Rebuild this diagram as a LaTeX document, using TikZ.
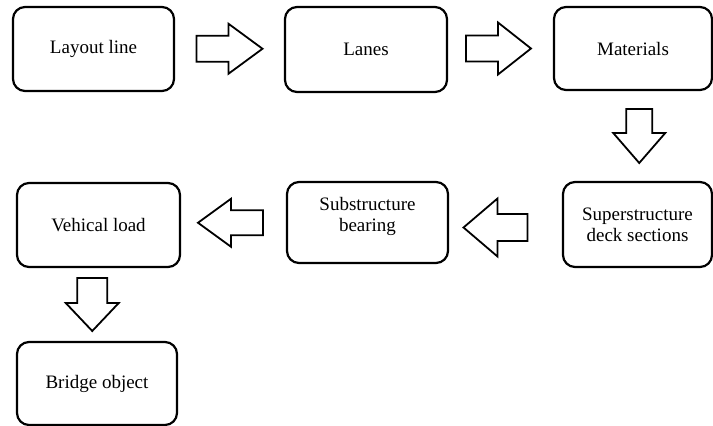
\documentclass[tikz,border=0pt]{standalone}
\usepackage{fontspec}
\setmainfont{Liberation Serif}
\usetikzlibrary{calc}
\tikzset{
  stepbox/.style={draw=black, line width=2.2pt, rounded corners=12pt, inner sep=0pt, align=center,
    font=\fontsize{19}{21}\selectfont},
  barrow/.style={draw=black, line width=1.8pt, fill=white, line join=miter},
}
% #1 centre, #2 angle, #3 length, #4 head length, #5 head width, #6 shaft width
\newcommand{\blockarrow}[6]{%
  \draw[barrow, shift={(#1)}, rotate=#2]
    ({-#3/2},{-#6/2}) -- ({#3/2-#4},{-#6/2}) -- ({#3/2-#4},{-#5/2}) -- ({#3/2},0)
    -- ({#3/2-#4},{#5/2}) -- ({#3/2-#4},{#6/2}) -- ({-#3/2},{#6/2}) -- cycle;}
\begin{document}
\begin{tikzpicture}[x=1pt,y=1pt]
\useasboundingbox (0,0) rectangle (713,-426);
\node[stepbox, minimum width=161pt, minimum height=84pt] (layout) at (93.5,-49) {Layout line};
\node[stepbox, minimum width=162pt, minimum height=85pt] (lanes) at (366,-49.5) {Lanes};
\node[stepbox, minimum width=158pt, minimum height=83pt] (materials) at (633,-48.5) {Materials};
\node[stepbox, minimum width=149pt, minimum height=85pt] (super) at (637.5,-224.5) {Superstructure\\deck sections};
\node[stepbox, minimum width=161pt, minimum height=81pt] (sub) at (367.5,-222.5) {};
\node[align=center, font=\fontsize{19}{21}\selectfont] (subtext) at (367.5,-216) {Substructure\\bearing};
\node[stepbox, minimum width=163pt, minimum height=84pt] (vehical) at (98.5,-225) {Vehical load};
\node[stepbox, minimum width=160pt, minimum height=83pt] (bridge) at (97,-383.5) {Bridge object};
\coordinate (a1) at ($(layout.east)!0.5!(lanes.west)+(0,0.5)$);
\coordinate (a2) at ($(lanes.east)!0.5!(materials.west)+(-2,0.5)$);
\coordinate (d1) at ($(materials.south)!0.5!(super.north)+(4,0)$);
\coordinate (l1) at ($(super.west)!0.5!(sub.east)+(-10,-4)$);
\coordinate (l2) at ($(sub.west)!0.5!(vehical.east)+(-3,1)$);
\coordinate (d2) at ($(vehical.south)!0.5!(bridge.north)+(-5.5,0)$);
\blockarrow{a1}{0}{66}{34}{50}{26}
\blockarrow{a2}{0}{65}{33}{52}{26}
\blockarrow{d1}{-90}{54}{30}{52}{26}
\blockarrow{l1}{180}{64}{34}{58}{27}
\blockarrow{l2}{180}{65}{33}{48}{25}
\blockarrow{d2}{-90}{53}{28}{53}{30}
\end{tikzpicture}
\end{document}
